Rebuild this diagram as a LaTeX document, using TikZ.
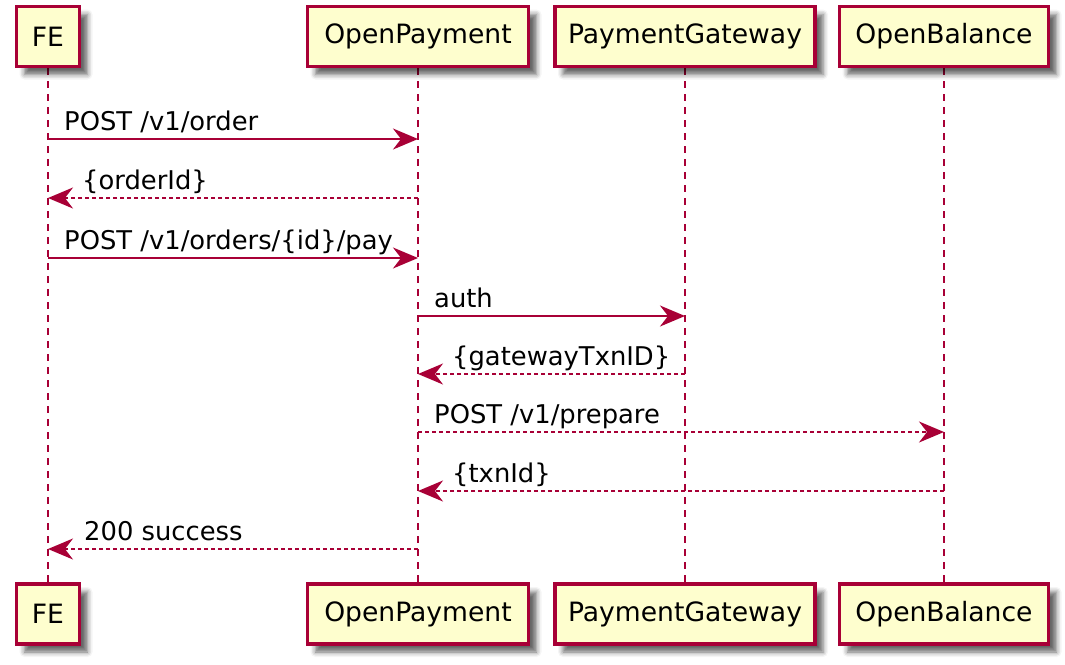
\documentclass[tikz,border=0pt]{standalone}
\usepackage{fontspec}
\setmainfont{DejaVu Sans}
\usetikzlibrary{arrows.meta,shadows.blur}
\pgfdeclarelayer{bg}
\pgfsetlayers{bg,main}
\definecolor{puborder}{HTML}{A80036}
\definecolor{pufill}{HTML}{FEFECE}
\tikzset{
  part/.style={draw=puborder, line width=3.2pt, fill=pufill, minimum height=60pt,
    inner sep=0pt, font=\fontsize{26.6}{32}\selectfont,
    blur shadow={shadow xshift=8pt, shadow yshift=-8pt, shadow blur radius=5pt, shadow opacity=60}},
  life/.style={draw=puborder, line width=2pt, dash pattern=on 7pt off 6pt},
  msg/.style={draw=puborder, line width=2pt, -{Stealth[length=25pt,width=21pt,inset=8pt]}},
  ret/.style={msg, dash pattern=on 4pt off 3pt},
  lbl/.style={anchor=base west, inner sep=0pt, font=\fontsize{25.8}{30}\selectfont}
}
\begin{document}
\begin{tikzpicture}[x=1pt,y=-1pt]
\useasboundingbox (0,0) rectangle (1065,664);
% participants
\node[part, minimum width=63pt] (feT) at (48,36.5) {FE};
\node[part, minimum width=221pt] (opT) at (418,36.5) {OpenPayment};
\node[part, minimum width=260pt] (pgT) at (685,36.5) {PaymentGateway};
\node[part, minimum width=209pt] (obT) at (944,36.5) {OpenBalance};
\node[part, minimum width=63pt] (feB) at (48,614) {FE};
\node[part, minimum width=221pt] (opB) at (418,614) {OpenPayment};
\node[part, minimum width=260pt] (pgB) at (685,614) {PaymentGateway};
\node[part, minimum width=209pt] (obB) at (944,614) {OpenBalance};
% lifelines
\begin{pgfonlayer}{bg}
\draw[life] (feT.south) -- (feB.north);
\draw[life] (opT.south) -- (opB.north);
\draw[life] (pgT.south) -- (pgB.north);
\draw[life] (obT.south) -- (obB.north);
\end{pgfonlayer}
% message points
\foreach \i/\y in {1/139,2/198,3/258,4/316,5/374,6/432,7/491,8/549}{
  \coordinate (fe\i) at (feT.center |- 0,\y);
  \coordinate (op\i) at (opT.center |- 0,\y);
  \coordinate (pg\i) at (pgT.center |- 0,\y);
  \coordinate (ob\i) at (obT.center |- 0,\y);
}
\draw[msg] (fe1) -- (op1);
\node[lbl] (l1) at (64,130) {POST /v1/order};
\draw[ret] (op2) -- (fe2);
\node[lbl] (l2) at (82,189) {\{orderId\}};
\draw[msg] (fe3) -- (op3);
\node[lbl] (l3) at (64,249) {POST /v1/orders/\{id\}/pay};
\draw[msg] (op4) -- (pg4);
\node[lbl] (l4) at (434,307) {auth};
\draw[ret] (pg5) -- (op5);
\node[lbl] (l5) at (452,365) {\{gatewayTxnID\}};
\draw[ret] (op6) -- (ob6);
\node[lbl] (l6) at (434,423) {POST /v1/prepare};
\draw[ret] (ob7) -- (op7);
\node[lbl] (l7) at (452,482) {\{txnId\}};
\draw[ret] (op8) -- (fe8);
\node[lbl] (l8) at (84,540) {200 success};
\end{tikzpicture}
\end{document}
